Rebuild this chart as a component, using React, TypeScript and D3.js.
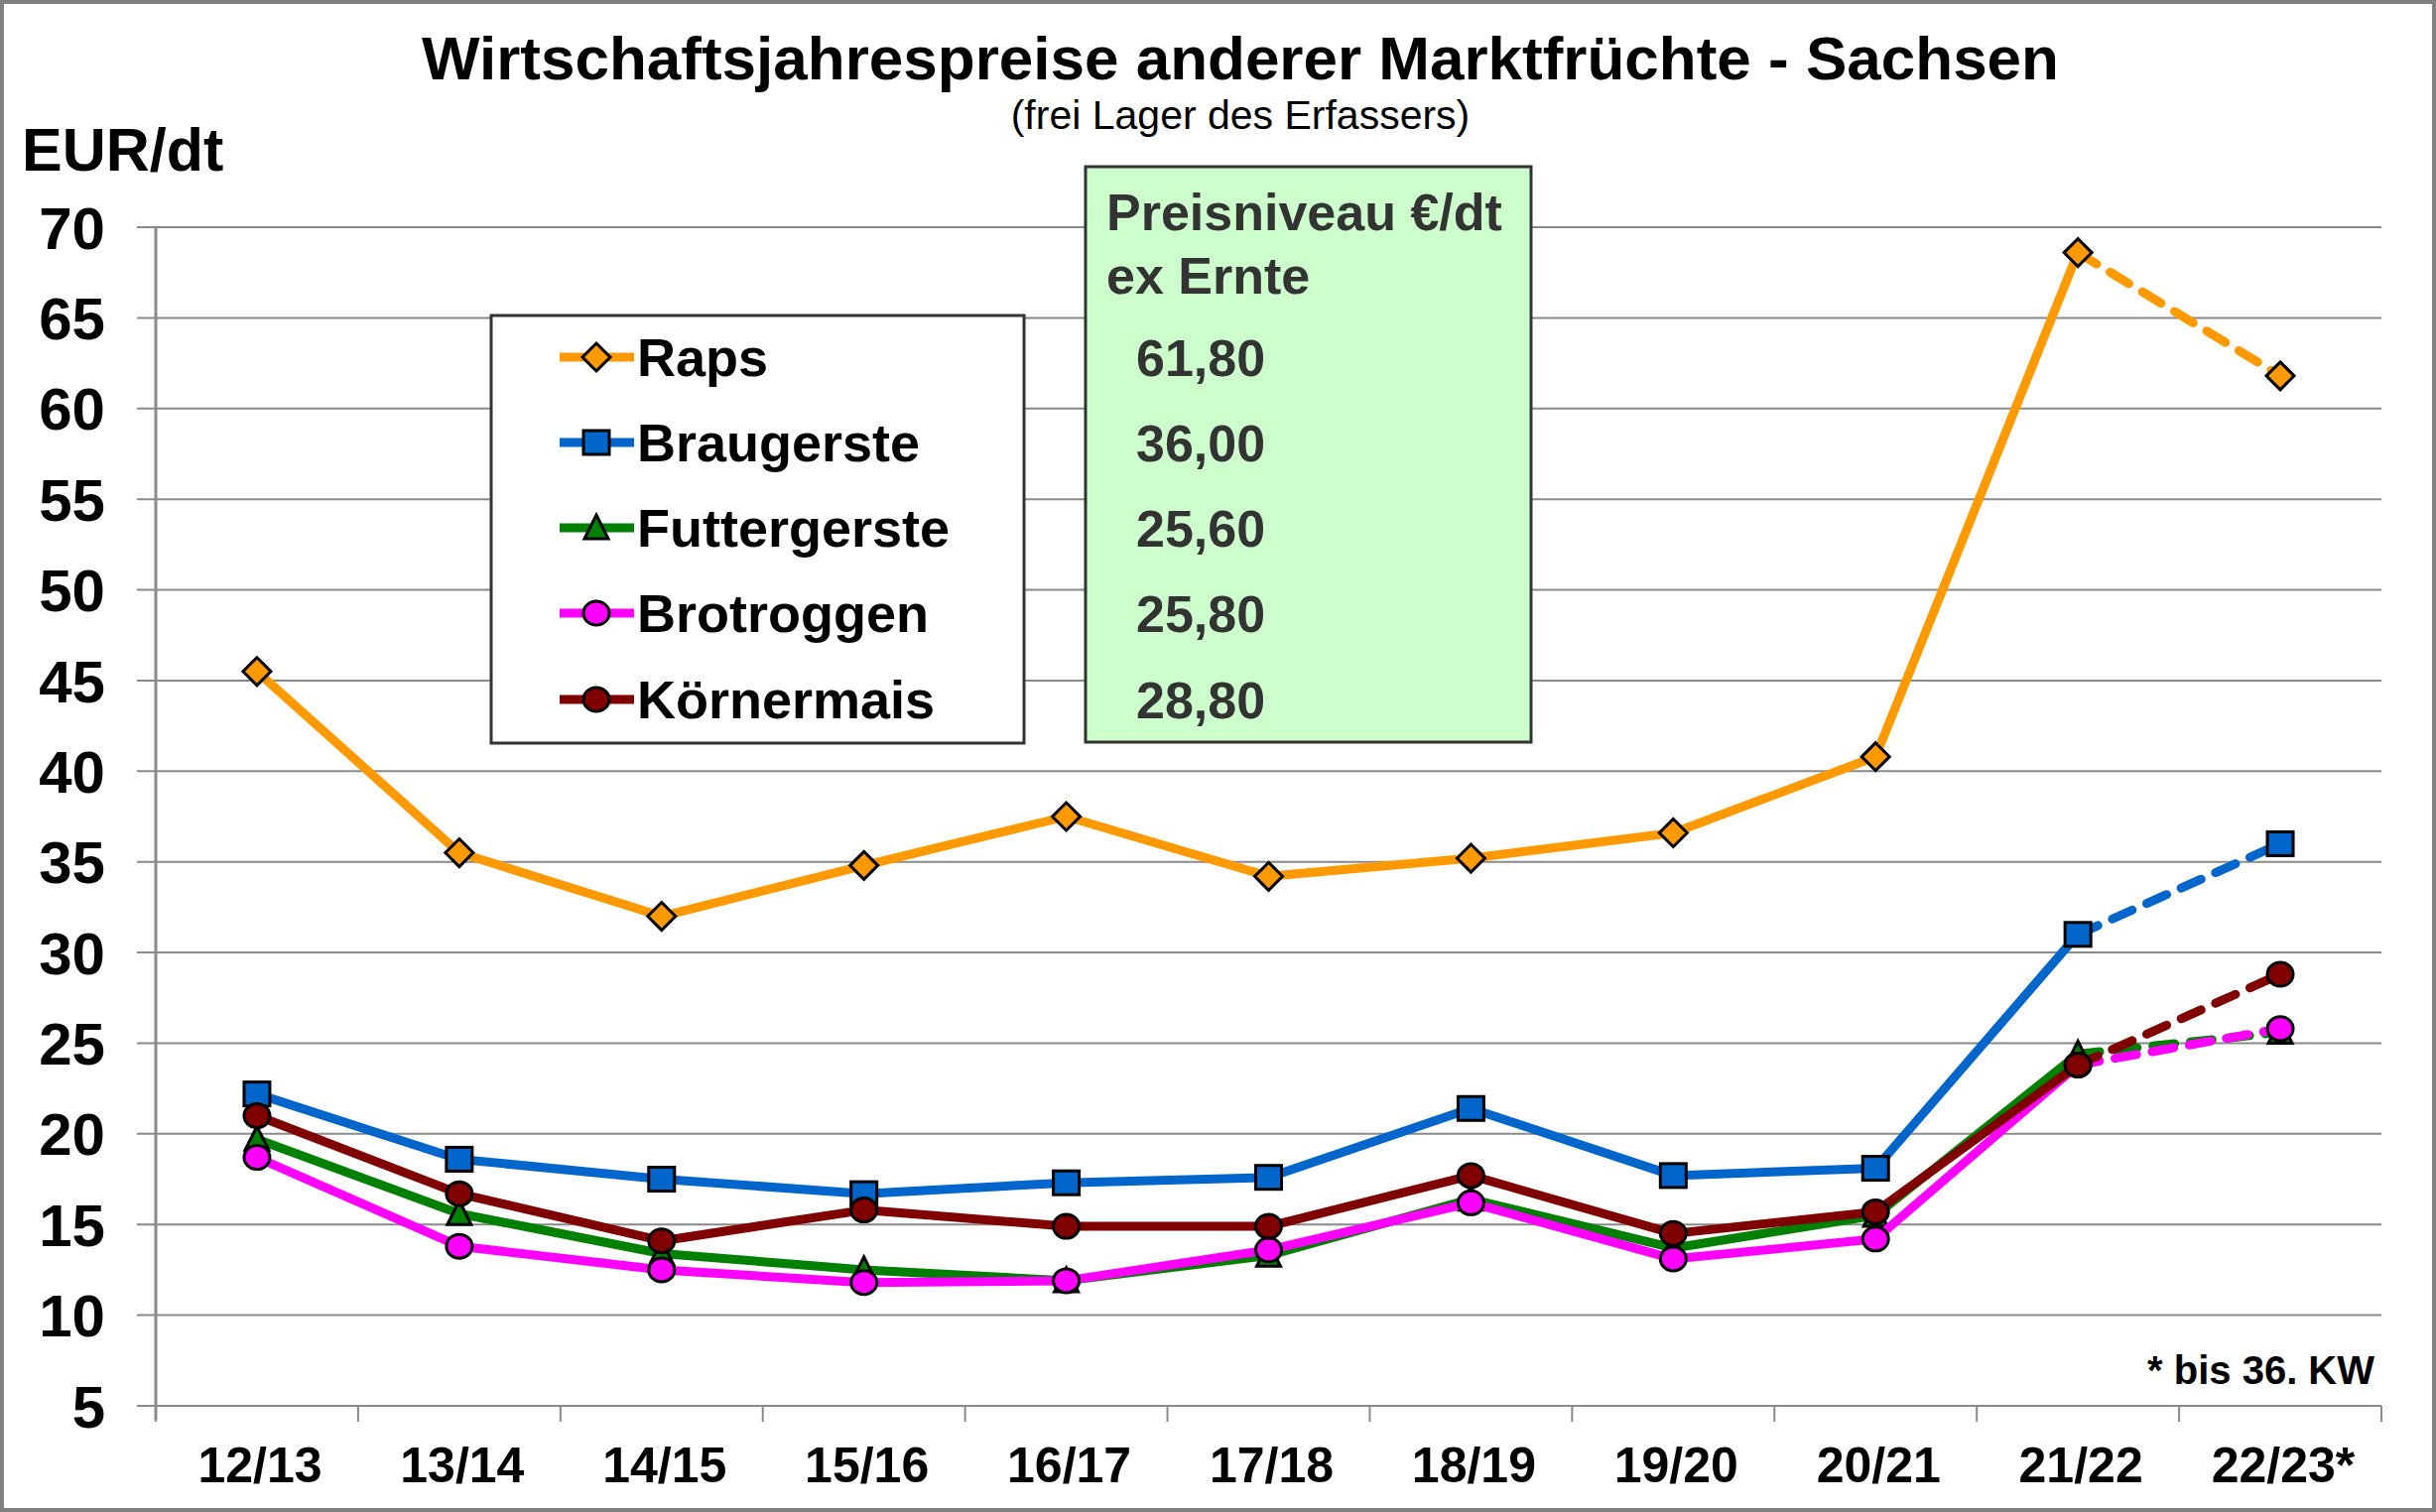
import React from 'react';
import * as d3 from 'd3';

const width = 2455;
const height = 1524;

const years = ['12/13', '13/14', '14/15', '15/16', '16/17', '17/18', '18/19', '19/20', '20/21', '21/22', '22/23*'];

const raps = [45.5, 35.5, 32.0, 34.8, 37.5, 34.2, 35.2, 36.6, 40.8, 68.6, 61.8];
const braugerste = [22.2, 18.6, 17.5, 16.7, 17.3, 17.6, 21.4, 17.7, 18.1, 31.0, 36.0];
const futtergerste = [19.7, 15.6, 13.4, 12.5, 11.9, 13.3, 16.4, 13.7, 15.5, 24.4, 25.6];
const brotroggen = [18.7, 13.8, 12.5, 11.8, 11.9, 13.6, 16.2, 13.1, 14.2, 23.8, 25.8];
const koernermais = [21.0, 16.7, 14.1, 15.8, 14.9, 14.9, 17.7, 14.5, 15.7, 23.8, 28.8];

const seriesNames = ['Raps', 'Braugerste', 'Futtergerste', 'Brotroggen', 'Körnermais'];
const priceLabels = ['61,80', '36,00', '25,60', '25,80', '28,80'];
const yTicks = [5, 10, 15, 20, 25, 30, 35, 40, 45, 50, 55, 60, 65, 70];

const series = [
  { name: seriesNames[0], values: raps, color: '#FF9900', shape: 'diamond' },
  { name: seriesNames[1], values: braugerste, color: '#0066CC', shape: 'square' },
  { name: seriesNames[2], values: futtergerste, color: '#008000', shape: 'triangle' },
  { name: seriesNames[3], values: brotroggen, color: '#FF00FF', shape: 'circle' },
  { name: seriesNames[4], values: koernermais, color: '#800000', shape: 'circle' },
];

const font = "'Liberation Sans', Arial, sans-serif";
const left = 157;
const right = 2400;
const top = 229;
const bottom = 1417;

const x = d3.scaleBand<string>().domain(years).range([left, right]).padding(0);
const y = d3.scaleLinear().domain([5, 70]).range([bottom, top]);
const cx = (i: number) => (x(years[i]) as number) + x.bandwidth() / 2;

const lineGen = d3.line<[number, number]>().x(d => d[0]).y(d => d[1]);

const Marker = ({ shape, color, px, py }: { shape: string; color: string; px: number; py: number }) => {
  const s = 13;
  if (shape === 'diamond') {
    return <path d={`M${px},${py - 14}L${px + 14},${py}L${px},${py + 14}L${px - 14},${py}Z`} fill={color} stroke="#000" strokeWidth={3} />;
  }
  if (shape === 'square') {
    return <rect x={px - s} y={py - 12} width={2 * s} height={24} fill={color} stroke="#000" strokeWidth={3} />;
  }
  if (shape === 'triangle') {
    return <path d={`M${px},${py - 13}L${px + 12},${py + 11}L${px - 12},${py + 11}Z`} fill={color} stroke="#000" strokeWidth={3} />;
  }
  return <ellipse cx={px} cy={py} rx={13} ry={12} fill={color} stroke="#000" strokeWidth={3} />;
};

const App = () => {
  const legendY = [360, 446, 532, 618, 705];
  return (
    <svg width={width} height={height} style={{ position: 'absolute', left: 0, top: 0, background: '#fff' }}>
      <rect x={2} y={2} width={width - 4} height={height - 4} fill="#fff" stroke="#808080" strokeWidth={4} />

      {/* grid */}
      {yTicks.map(t => (
        <line key={t} x1={138} x2={right} y1={y(t)} y2={y(t)} stroke="#8a8a8a" strokeWidth={2} />
      ))}
      <line x1={left} x2={left} y1={top} y2={bottom + 14} stroke="#8a8a8a" strokeWidth={3} />
      {years.map((yr, i) => (
        <line key={yr} x1={x(yr) as number} x2={x(yr) as number} y1={bottom} y2={bottom + 16} stroke="#8a8a8a" strokeWidth={2} />
      ))}
      <line x1={right} x2={right} y1={bottom} y2={bottom + 16} stroke="#8a8a8a" strokeWidth={2} />

      {/* y labels */}
      {yTicks.map(t => (
        <text key={t} x={106} y={y(t)} dy="0.36em" textAnchor="end" fontFamily={font} fontWeight="bold" fontSize={60}>{t}</text>
      ))}
      {/* x labels */}
      {years.map((yr, i) => (
        <text key={yr} x={cx(i) + 3} y={1494} textAnchor="middle" fontFamily={font} fontWeight="bold" fontSize={50}>{yr}</text>
      ))}

      {/* titles */}
      <text x={1250} y={80} textAnchor="middle" fontFamily={font} fontWeight="bold" fontSize={62}>Wirtschaftsjahrespreise anderer Marktfrüchte - Sachsen</text>
      <text x={1250} y={130} textAnchor="middle" fontFamily={font} fontSize={41}>(frei Lager des Erfassers)</text>
      <text x={22} y={172} fontFamily={font} fontWeight="bold" fontSize={61}>EUR/dt</text>
      <text x={2393} y={1395} textAnchor="end" fontFamily={font} fontWeight="bold" fontSize={40}>* bis 36. KW</text>

      {/* green price box */}
      <rect x={1094} y={168} width={449} height={580} fill="#CCFFCC" stroke="#333" strokeWidth={3} />
      <text x={1115} y={232} fontFamily={font} fontWeight="bold" fontSize={52} fill="#333">Preisniveau €/dt</text>
      <text x={1115} y={296} fontFamily={font} fontWeight="bold" fontSize={52} fill="#333">ex Ernte</text>
      {priceLabels.map((p, i) => (
        <text key={p + i} x={1145} y={legendY[i]} dy="0.36em" fontFamily={font} fontWeight="bold" fontSize={52} fill="#333">{p}</text>
      ))}

      {/* legend */}
      <rect x={495} y={318} width={537} height={431} fill="#fff" stroke="#333" strokeWidth={3} />
      {series.map((s, i) => (
        <g key={s.name}>
          <line x1={564} x2={639} y1={legendY[i]} y2={legendY[i]} stroke={s.color} strokeWidth={9} />
          <Marker shape={s.shape} color={s.color} px={601} py={legendY[i]} />
          <text x={642} y={legendY[i]} dy="0.36em" fontFamily={font} fontWeight="bold" fontSize={54}>{s.name}</text>
        </g>
      ))}

      {/* series */}
      {series.map(s => {
        const pts: [number, number][] = s.values.map((v, i) => [cx(i), y(v)]);
        const n = pts.length;
        return (
          <g key={s.name}>
            <path d={lineGen(pts.slice(0, n - 1)) as string} fill="none" stroke={s.color} strokeWidth={9} strokeLinejoin="round" />
            <path d={lineGen(pts.slice(n - 2)) as string} fill="none" stroke={s.color} strokeWidth={9} strokeDasharray="22 16" strokeLinecap="round" />
            {pts.map((p, i) => (
              <Marker key={i} shape={s.shape} color={s.color} px={p[0]} py={p[1]} />
            ))}
          </g>
        );
      })}
    </svg>
  );
};

export default App;
